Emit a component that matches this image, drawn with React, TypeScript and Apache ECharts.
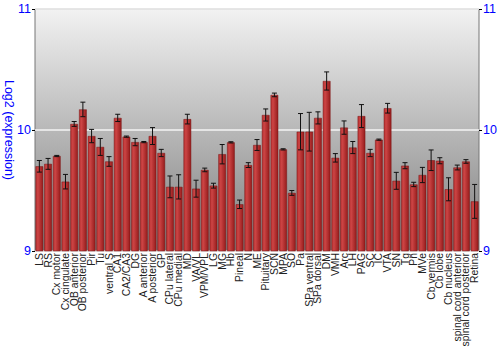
import React, { useEffect, useRef } from "react";
import * as echarts from "echarts";

const categories = [
  "LS", "RS", "Cx motor", "Cx cingulate", "OB anterior", "OB posterior", "Pir", "Tu",
  "ventral S", "CA1", "CA2/CA3", "DG", "A anterior", "A posterior", "GP", "CPu lateral",
  "CPu medial", "MD", "VA/VL", "VPM/VPL", "LG", "MG", "Hb", "Pineal", "N", "ME",
  "Pituitary", "SCN", "MPA", "SO", "Pa", "SPa ventral", "SPa dorsal", "DM", "VMH", "Arc",
  "LH", "PAG", "SC", "IC", "VTA", "SN", "Tg", "Pn", "MVe", "Cb vermis", "Cb lobe",
  "Cb nucleus", "spinal cord anterior", "spinal cord posterior", "Retina",
];

const values = [
  9.70, 9.72, 9.785, 9.573, 10.05, 10.17, 9.95, 9.86,
  9.74, 10.10, 9.945, 9.90, 9.90, 9.95, 9.81, 9.53,
  9.53, 10.09, 9.515, 9.67, 9.54, 9.80, 9.898, 9.386, 9.71, 9.876,
  10.124, 10.29, 9.84, 9.48, 9.986, 9.986, 10.10, 10.405, 9.77, 10.02,
  9.855, 10.115, 9.81, 9.92, 10.18, 9.58, 9.705, 9.55, 9.628, 9.75, 9.746,
  9.51, 9.69, 9.74, 9.41,
];

const errors = [
  0.048, 0.045, 0.005, 0.06, 0.02, 0.06, 0.055, 0.07,
  0.04, 0.03, 0.005, 0.03, 0.005, 0.07, 0.03, 0.09,
  0.1, 0.04, 0.07, 0.015, 0.02, 0.08, 0.005, 0.035, 0.02, 0.045,
  0.05, 0.015, 0.005, 0.02, 0.15, 0.16, 0.05, 0.075, 0.035, 0.055,
  0.05, 0.095, 0.03, 0.005, 0.04, 0.07, 0.025, 0.018, 0.063, 0.085, 0.025,
  0.095, 0.02, 0.015, 0.14,
];

const yTicks = { min: 9, max: 11, interval: 1 };
const yName = "Log2 (expression)";

export default function App() {
  const ref = useRef<HTMLDivElement>(null);
  useEffect(() => {
    if (!ref.current) return;
    const chart = echarts.init(ref.current, undefined, { renderer: "svg" });
    const errData = values.map((v, i) => [i, v - errors[i], v + errors[i]]);
    const barGrad = new echarts.graphic.LinearGradient(0, 0, 1, 0, [
      { offset: 0, color: "#b83232" },
      { offset: 0.3, color: "#cc4444" },
      { offset: 1, color: "#961c1c" },
    ]);
    const font = "Liberation Sans";
    chart.setOption({
      animation: false,
      graphic: [
        {
          type: "text",
          x: 9,
          y: 130,
          rotation: -Math.PI / 2,
          style: {
            text: yName,
            fill: "#0000ff",
            fontSize: 12.5,
            fontFamily: font,
            align: "center",
            verticalAlign: "middle",
          },
        },
      ],
      grid: {
        left: 35,
        right: 21,
        top: 9,
        bottom: 99,
        show: true,
        outerBoundsMode: "none",
        containLabel: false,
        borderColor: "#777",
        borderWidth: 1,
        backgroundColor: new echarts.graphic.LinearGradient(0, 0, 0, 1, [
          { offset: 0, color: "#f2f2f2" },
          { offset: 1, color: "#7e7e7e" },
        ]),
      },
      xAxis: {
        type: "category",
        data: categories,
        axisLine: { show: false },
        axisTick: { show: false },
        axisLabel: {
          interval: 0,
          rotate: 90,
          fontSize: 10.4,
          color: "#222",
          margin: 2,
          fontFamily: font,
        },
      },
      yAxis: [
        {
          type: "value",
          min: yTicks.min,
          max: yTicks.max,
          interval: yTicks.interval,
          axisLine: { show: false },
          axisTick: { show: true, length: 3, lineStyle: { color: "#000" } },
          axisLabel: { color: "#0000ff", fontSize: 12.5, margin: 4, fontFamily: font },
          splitLine: { show: true, lineStyle: { color: "#f4f4f4", width: 1.5 } },
        },
        {
          type: "value",
          position: "right",
          min: yTicks.min,
          max: yTicks.max,
          interval: yTicks.interval,
          axisLine: { show: false },
          axisTick: { show: true, length: 3, lineStyle: { color: "#000" } },
          axisLabel: { color: "#0000ff", fontSize: 12.5, margin: 4, fontFamily: font },
          splitLine: { show: false },
        },
      ],
      series: [
        {
          type: "bar",
          data: values,
          barCategoryGap: "12%",
          itemStyle: { color: barGrad, borderColor: "#7a1515", borderWidth: 0.5 },
        },
        {
          type: "custom",
          data: errData,
          z: 10,
          renderItem: (params: any, api: any) => {
            const i = api.value(0);
            const lo = api.coord([i, api.value(1)]);
            const hi = api.coord([i, api.value(2)]);
            const hw = 2.5;
            const style = { stroke: "#111", lineWidth: 1 };
            return {
              type: "group",
              children: [
                { type: "line", shape: { x1: lo[0], y1: lo[1], x2: hi[0], y2: hi[1] }, style },
                { type: "line", shape: { x1: lo[0] - hw, y1: lo[1], x2: lo[0] + hw, y2: lo[1] }, style },
                { type: "line", shape: { x1: hi[0] - hw, y1: hi[1], x2: hi[0] + hw, y2: hi[1] }, style },
              ],
            };
          },
        },
      ],
    });
    return () => chart.dispose();
  }, []);
  return (
    <div
      ref={ref}
      style={{ position: "absolute", left: 0, top: 0, width: 500, height: 350 }}
    />
  );
}
